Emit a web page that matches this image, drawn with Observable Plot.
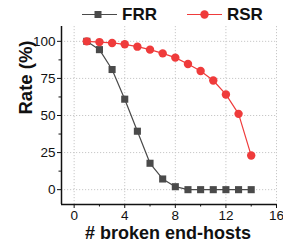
<!DOCTYPE html>
<html><head><meta charset="utf-8">
<script src="https://cdn.jsdelivr.net/npm/d3@7"></script>
<script src="https://cdn.jsdelivr.net/npm/@observablehq/plot@0.6"></script>
<style>
body{margin:0;background:#fff;font-family:"Liberation Sans",Arial,sans-serif;}
#wrap{position:relative;width:283px;height:243px;}
#legend{position:absolute;left:0;top:5px;width:283px;height:20px;z-index:2;}
#chart{position:absolute;left:0;top:20px;}
.lg{position:absolute;top:0;font-weight:bold;font-size:17px;line-height:19px;color:#111;}
</style>
</head><body>
<div id="wrap">
<div id="legend">
  <svg width="283" height="20" style="position:absolute;left:0;top:0">
    <line x1="82" x2="117" y1="9.5" y2="9.5" stroke="#4a4a4a" stroke-width="1.2"/>
    <rect x="94.5" y="6" width="7" height="7" fill="#4a4a4a"/>
    <line x1="187" x2="222" y1="9.5" y2="9.5" stroke="#ef3b3b" stroke-width="1.2"/>
    <circle cx="204.5" cy="9.5" r="4.2" fill="#ef3b3b"/>
  </svg>
  <div class="lg" style="left:122px;">FRR</div>
  <div class="lg" style="left:227px;">RSR</div>
</div>
<div id="chart"></div>
</div>
<script>
const hosts = [1,2,3,4,5,6,7,8,9,10,11,12,13,14];
const frr = [100,94.4,81,61,39.4,17.8,7.2,2,0,0,0,0,0,0];
const rsr = [100,99.5,98.9,98,96.4,94.4,91.9,89,84.7,80,73.6,64.2,51.1,23];
const xTicks = [0,4,8,12,16];
const xMinor = [2,6,10,14];
const yTicks = [0,25,50,75,100];
const yMinor = [12.5,37.5,62.5,87.5];

const frrData = hosts.map((h,i)=>({x:h,y:frr[i]}));
const rsrData = hosts.map((h,i)=>({x:h,y:rsr[i]}));

const chart = Plot.plot({
  width: 283,
  height: 223,
  marginLeft: 61,
  marginRight: 7,
  marginTop: 6,
  marginBottom: 39,
  style: {fontFamily: '"Liberation Sans", Arial, sans-serif', fontSize: "13.5px", color: "#111", background: "transparent"},
  x: {domain: [-1, 16], label: null},
  y: {domain: [-10, 110], label: null},
  marks: [
    Plot.gridX(xTicks, {stroke: "#c8c8c8", strokeOpacity: 1, strokeDasharray: "1.2,1.8"}),
    Plot.gridY(yTicks, {stroke: "#c8c8c8", strokeOpacity: 1, strokeDasharray: "1.2,1.8"}),
    Plot.axisX(xTicks, {tickSize: 4, tickPadding: 2, fontSize: 13.5, stroke: "#111", color: "#111"}),
    Plot.axisX(xMinor, {tickSize: 2.5, text: null, stroke: "#111"}),
    Plot.axisY(yTicks, {tickSize: 4, tickPadding: 2, fontSize: 13.5, stroke: "#111", color: "#111"}),
    Plot.axisY(yMinor, {tickSize: 2.5, text: null, stroke: "#111"}),
    Plot.ruleX([-1], {stroke: "#111", strokeWidth: 1.5}),
    Plot.ruleY([-10], {stroke: "#111", strokeWidth: 1.5}),
    Plot.line(frrData, {x: "x", y: "y", stroke: "#4a4a4a", strokeWidth: 1.2}),
    Plot.dot(frrData, {x: "x", y: "y", symbol: "square", r: 4, fill: "#4a4a4a"}),
    Plot.line(rsrData, {x: "x", y: "y", stroke: "#ef3b3b", strokeWidth: 1.2}),
    Plot.dot(rsrData, {x: "x", y: "y", r: 4.2, fill: "#ef3b3b"}),
    Plot.text(["# broken end-hosts"], {frameAnchor: "bottom", dx: -1, dy: 34, fontSize: 18, fontWeight: "bold", fill: "#111"}),
    Plot.text(["Rate (%)"], {frameAnchor: "left", dx: -35, dy: -1, rotate: -90, fontSize: 18.5, fontWeight: "bold", fill: "#111"})
  ]
});
document.getElementById("chart").appendChild(chart);
</script>
</body></html>
